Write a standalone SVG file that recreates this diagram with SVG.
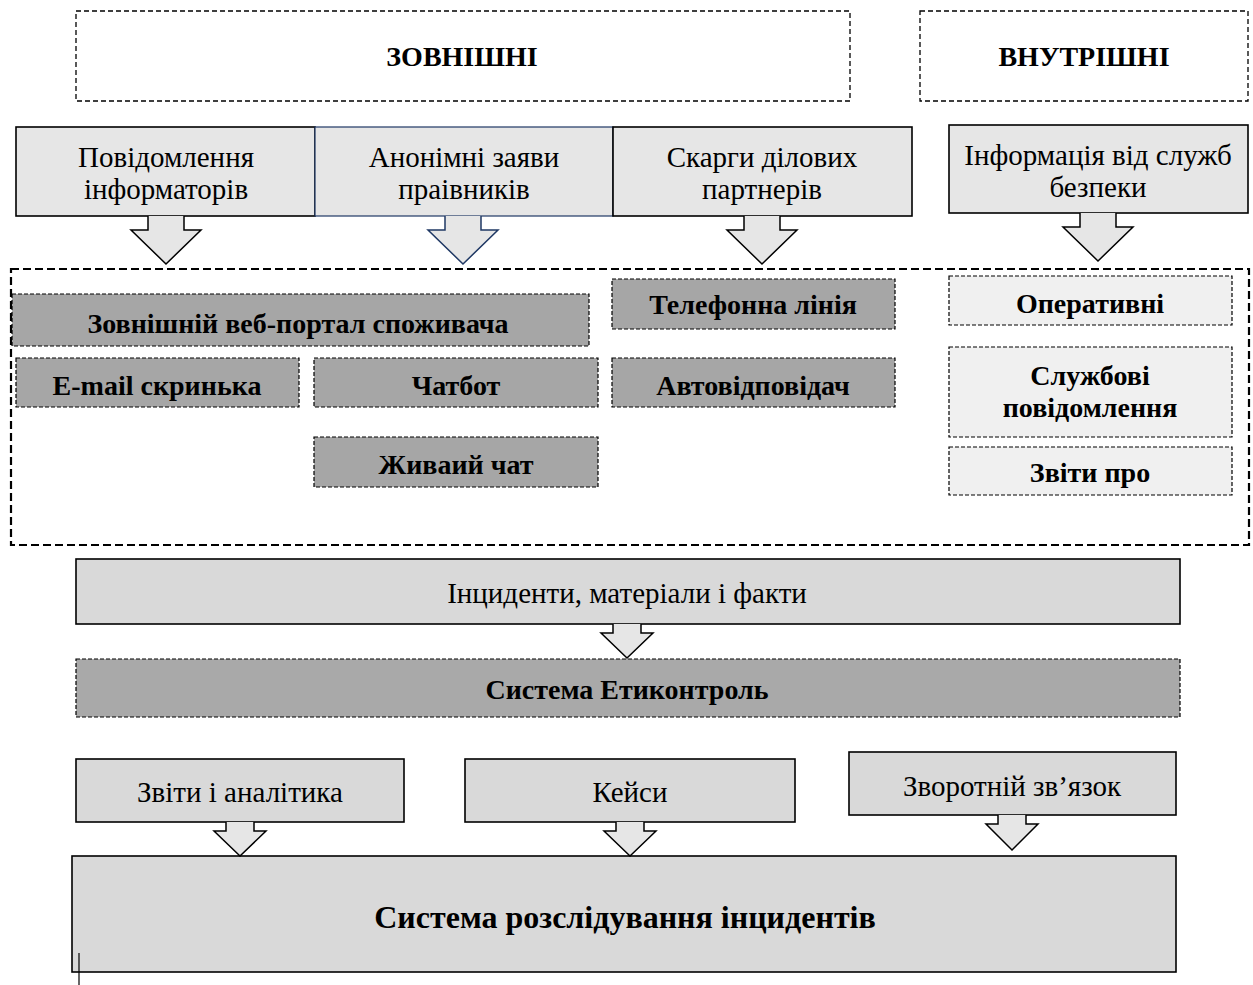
<svg xmlns="http://www.w3.org/2000/svg" width="1253" height="985" viewBox="0 0 1253 985">
  <style>
    .t { font-family: "Liberation Serif", "Times New Roman", serif; fill: #000; text-anchor: middle; }
    .reg { font-size: 29px; }
    .bold { font-size: 28px; font-weight: bold; }
    .big { font-size: 32px; font-weight: bold; }
    .head { fill: #fff; stroke: #000; stroke-width: 1.3; stroke-dasharray: 5 3; }
    .src { fill: #e6e6e6; stroke: #000; stroke-width: 1.6; }
    .dark { fill: #a6a6a6; stroke: #000; stroke-width: 1.2; stroke-dasharray: 4 2; }
    .pale { fill: #f0f0f0; stroke: #000; stroke-width: 1.2; stroke-dasharray: 4 2; }
    .mid { fill: #d9d9d9; stroke: #000; stroke-width: 1.6; }
    .arrow { fill: #e6e6e6; stroke: #000; stroke-width: 1.5; stroke-linejoin: miter; }
  </style>

  <!-- category headers -->
  <g id="external">
    <rect class="head" x="76" y="11" width="774" height="90"/>
    <text class="t bold" x="462" y="66">ЗОВНІШНІ</text>
  </g>
  <g id="internal">
    <rect class="head" x="920" y="11" width="328" height="90"/>
    <text class="t bold" x="1084" y="66">ВНУТРІШНІ</text>
  </g>

  <!-- sources -->
  <g id="informants">
    <rect class="src" x="16" y="127" width="299" height="89"/>
    <text class="t reg" x="166" y="167">Повідомлення</text>
    <text class="t reg" x="166" y="199">інформаторів</text>
  </g>
  <g id="anonymous">
    <rect x="315" y="127" width="298" height="89" fill="#e6e6e6" stroke="#1f3864" stroke-width="1.2"/>
    <text class="t reg" x="464" y="167">Анонімні заяви</text>
    <text class="t reg" x="464" y="199">праівників</text>
  </g>
  <g id="partners">
    <rect class="src" x="613" y="127" width="299" height="89"/>
    <text class="t reg" x="762" y="167">Скарги ділових</text>
    <text class="t reg" x="762" y="199">партнерів</text>
  </g>
  <g id="security">
    <rect class="src" x="949" y="125" width="299" height="88"/>
    <text class="t reg" x="1098" y="165">Інформація від служб</text>
    <text class="t reg" x="1098" y="197">безпеки</text>
  </g>

  <!-- channels container -->
  <g id="channels">
    <rect x="11" y="269" width="1238" height="276" fill="none" stroke="#000" stroke-width="2.2" stroke-dasharray="8 4"/>
  </g>
  <g id="web-portal">
    <rect class="dark" x="12" y="294" width="577" height="52"/>
    <text class="t bold" x="298" y="333">Зовнішній веб-портал споживача</text>
  </g>
  <g id="email">
    <rect class="dark" x="16" y="358" width="283" height="49"/>
    <text class="t bold" x="157" y="395">E-mail скринька</text>
  </g>
  <g id="chatbot">
    <rect class="dark" x="314" y="358" width="284" height="49"/>
    <text class="t bold" x="456" y="395">Чатбот</text>
  </g>
  <g id="live-chat">
    <rect class="dark" x="314" y="437" width="284" height="50"/>
    <text class="t bold" x="456" y="474">Живаий чат</text>
  </g>
  <g id="phone">
    <rect class="dark" x="612" y="279" width="283" height="50"/>
    <text class="t bold" x="753" y="314">Телефонна лінія</text>
  </g>
  <g id="answering">
    <rect class="dark" x="612" y="358" width="283" height="49"/>
    <text class="t bold" x="753" y="395">Автовідповідач</text>
  </g>
  <g id="operative">
    <rect class="pale" x="949" y="276" width="283" height="49"/>
    <text class="t bold" x="1090" y="313">Оперативні</text>
  </g>
  <g id="service-messages">
    <rect class="pale" x="949" y="347" width="283" height="90"/>
    <text class="t bold" x="1090" y="385">Службові</text>
    <text class="t bold" x="1090" y="417">повідомлення</text>
  </g>
  <g id="reports-about">
    <rect class="pale" x="949" y="447" width="283" height="48"/>
    <text class="t bold" x="1090" y="482">Звіти про</text>
  </g>

  <!-- processing -->
  <g id="incidents">
    <rect class="mid" x="76" y="559" width="1104" height="65"/>
    <text class="t reg" x="627" y="603">Інциденти, матеріали і факти</text>
  </g>
  <g id="eticontrol">
    <rect x="76" y="659" width="1104" height="58" fill="#a9a9a9" stroke="#000" stroke-width="1.2" stroke-dasharray="4 2"/>
    <text class="t bold" x="627" y="699">Система Етиконтроль</text>
  </g>

  <!-- outputs -->
  <g id="analytics">
    <rect class="mid" x="76" y="759" width="328" height="63"/>
    <text class="t reg" x="240" y="802">Звіти і аналітика</text>
  </g>
  <g id="cases">
    <rect class="mid" x="465" y="759" width="330" height="63"/>
    <text class="t reg" x="630" y="802">Кейси</text>
  </g>
  <g id="feedback">
    <rect class="mid" x="849" y="752" width="327" height="63"/>
    <text class="t reg" x="1012" y="796">Зворотній зв’язок</text>
  </g>
  <g id="investigation">
    <rect class="mid" x="72" y="856" width="1104" height="116"/>
    <text class="t big" x="625" y="928">Система розслідування інцидентів</text>
  </g>

  <!-- block arrows -->
  <g id="connectors">
    <path class="arrow" d="M148,216 V230 H131 L166,264 L201,230 H184 V216"/>
    <path d="M445,216 V230 H428 L463,264 L498,230 H481 V216" fill="#e6e6e6" stroke="#1f3864" stroke-width="1.5"/>
    <path class="arrow" d="M744,216 V230 H727 L762,264 L797,230 H780 V216"/>
    <path class="arrow" d="M1080,213 V227 H1063 L1098,261 L1133,227 H1116 V213"/>
    <path class="arrow" d="M613,624 V633 H601 L627,658 L653,633 H641 V624"/>
    <path class="arrow" d="M226,822 V831 H214 L240,856 L266,831 H254 V822"/>
    <path class="arrow" d="M616,822 V831 H604 L630,856 L656,831 H644 V822"/>
    <path class="arrow" d="M998,815 V824 H986 L1012,850 L1038,824 H1026 V815"/>
  </g>

  <!-- text cursor mark -->
  <line x1="79" y1="953" x2="79" y2="985" stroke="#000" stroke-width="1.2"/>
</svg>
